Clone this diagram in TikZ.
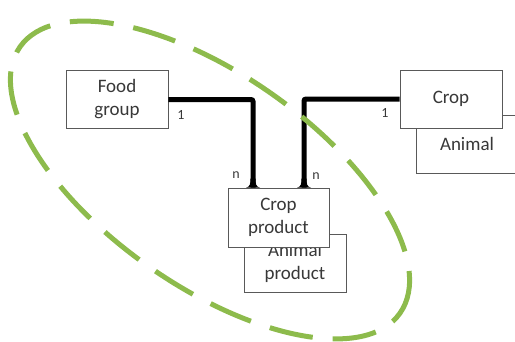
\documentclass[tikz,border=0pt]{standalone}
\usepackage{fontspec}
\setmainfont{Carlito}
\begin{document}
\begin{tikzpicture}[x=1pt,y=1pt,
  entity/.style={draw=black!65, line width=0.8pt, fill=white, inner sep=0pt,
    minimum width=102pt, minimum height=58pt, align=center, text=black!78,
    font=\fontsize{19}{23}\selectfont},
  relation/.style={line width=5pt, black, rounded corners=2pt},
  card/.style={text=black!78, font=\fontsize{14}{16}\selectfont, inner sep=0pt},
  crowfoot/.style={fill=black},
  scopering/.style={draw={rgb,255:red,141;green,187;blue,76}, line width=5pt,
    dash pattern=on 44pt off 20pt}]
\useasboundingbox (0,0) rectangle (515,341);

% entities (back copies first)
\node[entity] (an) at (467,197) {Animal};
\node[entity] (cr) at (451,242) {Crop};
\node[entity] (fg) at (117,241.5) {Food\\group};
\node[entity] (ap) at (295,78) {Animal\\product};
\node[entity, minimum width=101pt, minimum height=59pt] (cp) at (278.5,123.5) {Crop\\product};

% attachment points on the product entity
\coordinate (cpL) at ([xshift=-25.5pt]cp.north);
\coordinate (cpR) at ([xshift=25.5pt]cp.north);

% one-to-many relations
\draw[relation] (fg.east) -| (cpL);
\draw[relation] (cr.west) -| (cpR);

% crow's feet at the "many" ends
\foreach \p in {cpL,cpR}{
  \fill[crowfoot, shift={(\p)}] (-7,0) .. controls (-3,0.5) and (-2.5,4) .. (-2.5,9)
    -- (2.5,9) .. controls (2.5,4) and (3,0.5) .. (7,0) -- cycle;
}

% cardinalities
\node[card] (c1) at (181,226) {1};
\node[card] (c2) at (385,228) {1};
\node[card] (n1) at (236,166) {n};
\node[card] (n2) at (316,165) {n};

% grouping ring
\draw[scopering, rotate around={-35:(210,161)}] (210,161) ellipse [x radius=232pt, y radius=106pt];
\end{tikzpicture}
\end{document}
